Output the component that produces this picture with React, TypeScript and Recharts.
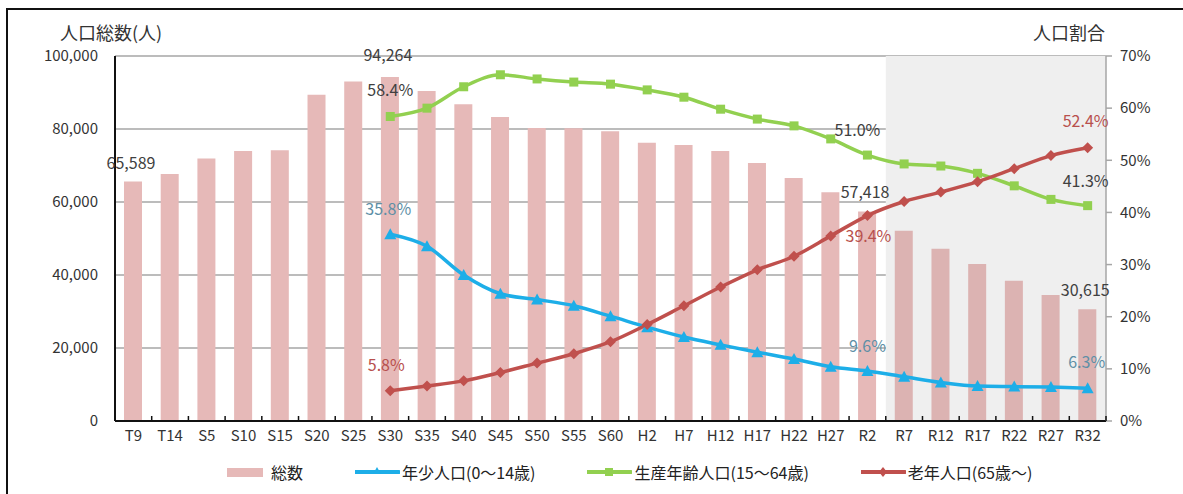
import {
  ComposedChart,
  Bar,
  Line,
  XAxis,
  YAxis,
  CartesianGrid,
  ReferenceArea,
  LabelList,
  Legend,
  Cell,
} from "recharts";

const categories = [
  "T9", "T14", "S5", "S10", "S15", "S20", "S25", "S30", "S35", "S40", "S45", "S50", "S55", "S60",
  "H2", "H7", "H12", "H17", "H22", "H27", "R2", "R7", "R12", "R17", "R22", "R27", "R32",
];
const totals = [
  65589, 67700, 71900, 74000, 74200, 89400, 93000, 94264, 90400, 86800, 83300, 80300, 80200, 79400,
  76200, 75600, 74000, 70700, 66600, 62700, 57418, 52100, 47200, 43000, 38400, 34500, 30615,
];
const youth = [
  null, null, null, null, null, null, null, 35.8, 33.5, 28.0, 24.4, 23.3, 22.1, 20.1,
  18.0, 16.1, 14.6, 13.2, 11.9, 10.4, 9.6, 8.5, 7.4, 6.7, 6.6, 6.5, 6.3,
];
const working = [
  null, null, null, null, null, null, null, 58.4, 60.0, 64.1, 66.4, 65.6, 65.0, 64.6,
  63.5, 62.1, 59.8, 57.9, 56.6, 54.1, 51.0, 49.3, 48.9, 47.5, 45.1, 42.5, 41.3,
];
const elderly = [
  null, null, null, null, null, null, null, 5.8, 6.7, 7.7, 9.3, 11.1, 12.9, 15.2,
  18.5, 22.1, 25.7, 29.0, 31.6, 35.5, 39.4, 42.1, 43.9, 45.9, 48.4, 50.9, 52.4,
];
const leftTicks = [0, 20000, 40000, 60000, 80000, 100000];
const rightTicks = [0, 10, 20, 30, 40, 50, 60, 70];
const projectionStart = "R7";
const projectionEnd = "R32";
const labeledTotals = ["T9", "S30", "R2", "R32"];
const labeledShares = ["S30", "R2", "R32"];

const PINK = "#e6b9b8";
const PINK_DARK = "#dcb3b2";
const BLUE = "#1daee8";
const GREEN = "#92d050";
const RED = "#c0504d";
const FONT = '"Noto Sans CJK JP", "Noto Sans", sans-serif';

const data = categories.map((c, i) => ({
  name: c,
  total: totals[i],
  youth: youth[i],
  working: working[i],
  elderly: elderly[i],
}));
const shadeFrom = categories.indexOf(projectionStart);

const fmt = (v: number) => v.toLocaleString("en-US");

// marker shapes
function triangle(color: string) {
  return (p: any) => {
    if (p.cx == null || p.cy == null || p.value == null) return <g key={p.index} />;
    const { cx, cy } = p;
    return <polygon key={p.index} points={`${cx},${cy - 6} ${cx - 6},${cy + 5} ${cx + 6},${cy + 5}`} fill={color} />;
  };
}
function square(color: string) {
  return (p: any) => {
    if (p.cx == null || p.cy == null || p.value == null) return <g key={p.index} />;
    return <rect key={p.index} x={p.cx - 4.5} y={p.cy - 4.5} width={9} height={9} fill={color} />;
  };
}
function diamond(color: string) {
  return (p: any) => {
    if (p.cx == null || p.cy == null || p.value == null) return <g key={p.index} />;
    const { cx, cy } = p;
    return <polygon key={p.index} points={`${cx},${cy - 5.5} ${cx + 5.5},${cy} ${cx},${cy + 5.5} ${cx - 5.5},${cy}`} fill={color} />;
  };
}

// category tick: label plus small boundary marks between categories
const TICK_MARGIN = 9;
function CategoryTick(p: any) {
  const { x, y, payload, index } = p;
  const half = payload.offset ?? 0;
  const axisY = y - TICK_MARGIN;
  const last = index === categories.length - 1;
  return (
    <g>
      <line x1={x - half} y1={axisY} x2={x - half} y2={axisY - 5} stroke="#111" strokeWidth={1.5} />
      {last && <line x1={x + half} y1={axisY} x2={x + half} y2={axisY - 5} stroke="#111" strokeWidth={1.5} />}
      <text x={x} y={y} dy="0.71em" textAnchor="middle" fontSize={15} fill="#333">
        {payload.value}
      </text>
    </g>
  );
}

function totalLabel(p: any) {
  const name = categories[p.index];
  if (!labeledTotals.includes(name)) return null;
  const lift = name === "S30" ? 16 : 13;
  return (
    <text x={p.x + p.width / 2 - 2} y={p.y - lift} textAnchor="middle" fontSize={16} fill="#404040">
      {fmt(p.value)}
    </text>
  );
}

function shareLabel(color: string, offsets: Record<string, [number, number]>) {
  return (p: any) => {
    const name = categories[p.index];
    if (!labeledShares.includes(name) || p.value == null) return null;
    const [dx, dy] = offsets[name];
    return (
      <text x={p.x + dx} y={p.y + dy} textAnchor="middle" fontSize={16} fill={color}>
        {Number(p.value).toFixed(1)}%
      </text>
    );
  };
}

const legendItems = [
  { label: "総数", color: PINK, kind: "bar" },
  { label: "年少人口(0～14歳)", color: BLUE, kind: "tri" },
  { label: "生産年齢人口(15～64歳)", color: GREEN, kind: "sq" },
  { label: "老年人口(65歳～)", color: RED, kind: "dia" },
];

function renderLegend() {
  return (
    <div style={{ display: "flex", alignItems: "center", height: 24, paddingLeft: 227, gap: 52, fontSize: 16, color: "#222" }}>
      {legendItems.map((it) => (
        <div key={it.label} style={{ display: "flex", alignItems: "center" }}>
          <svg width={it.kind === "bar" ? 42 : 45} height={14} style={{ marginRight: 2 }}>
            {it.kind === "bar" ? (
              <rect x={0} y={3} width={36} height={9} fill={it.color} />
            ) : (
              <>
                <line x1={0} y1={7} x2={44} y2={7} stroke={it.color} strokeWidth={4} strokeLinecap="round" />
                {it.kind === "tri" && <polygon points="22,2 18,9 26,9" fill={it.color} />}
                {it.kind === "sq" && <rect x={18} y={3} width={8} height={8} fill={it.color} />}
                {it.kind === "dia" && <polygon points="22,2 26,7 22,12 18,7" fill={it.color} />}
              </>
            )}
          </svg>
          <span>{it.label}</span>
        </div>
      ))}
    </div>
  );
}

export default function App() {
  return (
    <div style={{ position: "absolute", left: 0, top: 0, width: 1183, height: 494, background: "#fff", fontFamily: FONT, overflow: "hidden" }}>
      <div style={{ position: "absolute", left: 6, top: 8, width: 1220, height: 520, border: "2px solid #111" }} />
      <div style={{ position: "absolute", left: 60, top: 19, fontSize: 18, color: "#333" }}>人口総数(人)</div>
      <div style={{ position: "absolute", left: 1033, top: 19, fontSize: 18, color: "#333" }}>人口割合</div>
      <ComposedChart width={1183} height={494} data={data} margin={{ top: 56, right: 0, bottom: 19, left: 0 }}>
        <XAxis xAxisId="cat" dataKey="name" interval={0} height={30} tickSize={0} tickMargin={TICK_MARGIN}
          axisLine={{ stroke: "#111", strokeWidth: 2 }} tickLine={false} tick={<CategoryTick />} />
        <YAxis yAxisId="left" width={115} domain={[0, 100000]} ticks={leftTicks} tickFormatter={fmt}
          axisLine={{ stroke: "#111", strokeWidth: 2 }} tickLine={false} tickSize={0} tickMargin={17}
          tick={{ fontSize: 15, fill: "#333" }} />
        <YAxis yAxisId="right" orientation="right" width={77} domain={[0, 70]} ticks={rightTicks}
          tickFormatter={(v) => `${v}%`} axisLine={{ stroke: "#a6a6a6", strokeWidth: 1.5 }}
          tickLine={{ stroke: "#a6a6a6", strokeWidth: 1.5 }} tickSize={6} tickMargin={8}
          tick={{ fontSize: 15, fill: "#333" }} />
        <ReferenceArea xAxisId="cat" yAxisId="left" x1={projectionStart} x2={projectionEnd}
          fill="#efefef" fillOpacity={1} stroke="none" ifOverflow="visible" />
        <CartesianGrid yAxisId="left" xAxisId="cat" vertical={false} stroke="#a6a6a6" strokeWidth={1.5} />
        <Bar xAxisId="cat" yAxisId="left" dataKey="total" name="総数" barSize={18} isAnimationActive={false}>
          {data.map((_, i) => (
            <Cell key={i} fill={i >= shadeFrom ? PINK_DARK : PINK} />
          ))}
          <LabelList dataKey="total" content={totalLabel} />
        </Bar>
        <Line xAxisId="cat" yAxisId="right" type="monotone" dataKey="youth" stroke={BLUE} strokeWidth={3.5}
          dot={triangle(BLUE)} activeDot={false} isAnimationActive={false}>
          <LabelList dataKey="youth" content={shareLabel("#5e8fa6", { S30: [-2, -19], R2: [0, -19], R32: [-1, -20] })} />
        </Line>
        <Line xAxisId="cat" yAxisId="right" type="monotone" dataKey="working" stroke={GREEN} strokeWidth={3.5}
          dot={square(GREEN)} activeDot={false} isAnimationActive={false}>
          <LabelList dataKey="working" content={shareLabel("#404040", { S30: [0, -20], R2: [-10, -19], R32: [-2, -19] })} />
        </Line>
        <Line xAxisId="cat" yAxisId="right" type="monotone" dataKey="elderly" stroke={RED} strokeWidth={3.5}
          dot={diamond(RED)} activeDot={false} isAnimationActive={false}>
          <LabelList dataKey="elderly" content={shareLabel("#b8504d", { S30: [-4, -20], R2: [1, 26], R32: [-2, -21] })} />
        </Line>
        <Legend content={renderLegend} wrapperStyle={{ top: 460, left: 0, width: 1183, height: 24 }} />
      </ComposedChart>
    </div>
  );
}
